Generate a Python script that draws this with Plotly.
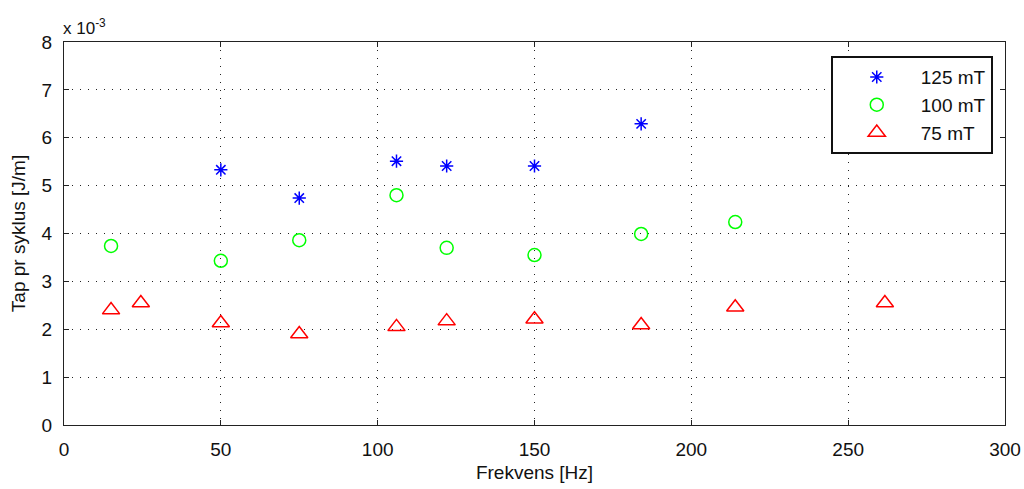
import plotly.graph_objects as go

# Values in units of 1e-3 J/m
f125 = [50, 75, 106, 122, 150, 184]
t125 = [5.33, 4.74, 5.51, 5.41, 5.41, 6.29]

f100 = [15, 50, 75, 106, 122, 150, 184, 214]
t100 = [3.74, 3.43, 3.86, 4.80, 3.70, 3.55, 3.99, 4.24]

f75 = [15, 24.5, 50, 75, 106, 122, 150, 184, 214, 261.7]
t75 = [2.40, 2.55, 2.13, 1.90, 2.05, 2.17, 2.21, 2.09, 2.46, 2.55]

xticks = [0, 50, 100, 150, 200, 250, 300]
yticks = [0, 1, 2, 3, 4, 5, 6, 7, 8]

font = "Liberation Sans, Arial, sans-serif"
fs = 19

fig = go.Figure()
fig.add_trace(go.Scatter(x=f125, y=t125, mode="markers", name="125 mT",
                         marker=dict(symbol="asterisk-open", size=11, color="blue",
                                     line=dict(color="blue", width=1.5))))
fig.add_trace(go.Scatter(x=f100, y=t100, mode="markers", name="100 mT",
                         marker=dict(symbol="circle-open", size=13, color="#00ff00",
                                     line=dict(color="#00ff00", width=1.5))))
fig.add_trace(go.Scatter(x=f75, y=t75, mode="markers", name="75 mT",
                         marker=dict(symbol="triangle-up-open", size=15, color="red",
                                     line=dict(color="red", width=1.5))))

axis_common = dict(showline=True, linecolor="#222", linewidth=1, mirror="ticks",
                   ticks="inside", ticklen=5, tickcolor="#222",
                   showgrid=True, gridcolor="#222", griddash="1px,7px", gridwidth=1,
                   zeroline=False, ticklabelstandoff=7, automargin=False,
                   ticklabeloverflow="allow",
                   tickfont=dict(size=fs, color="#111", family=font))

fig.update_layout(
    width=1024, height=489,
    margin=dict(l=64, r=19, t=42, b=64),
    paper_bgcolor="white", plot_bgcolor="white",
    font=dict(family=font, size=fs, color="#111"),
    xaxis=dict(range=[0, 300], tickvals=xticks,
               title=dict(text="Frekvens [Hz]", standoff=6, font=dict(size=fs)),
               **axis_common),
    yaxis=dict(range=[0, 8], tickvals=yticks,
               title=dict(text="Tap pr syklus [J/m]", standoff=10, font=dict(size=fs)),
               **axis_common),
    legend=dict(x=0.987, y=0.963, xanchor="right", yanchor="top",
                bordercolor="#111", borderwidth=2, bgcolor="white",
                font=dict(size=fs, family=font), itemwidth=78),
    showlegend=True,
    annotations=[dict(text="x 10<sup>-3</sup>", xref="paper", yref="paper",
                      x=0.0, y=1.0, xanchor="left", yanchor="bottom", yshift=2,
                      xshift=-3, showarrow=False, font=dict(size=17, family=font))],
)

fig.write_html("out.html", config={"displayModeBar": False},
               post_script="document.body.style.margin='0px';document.body.style.overflow='hidden';")
